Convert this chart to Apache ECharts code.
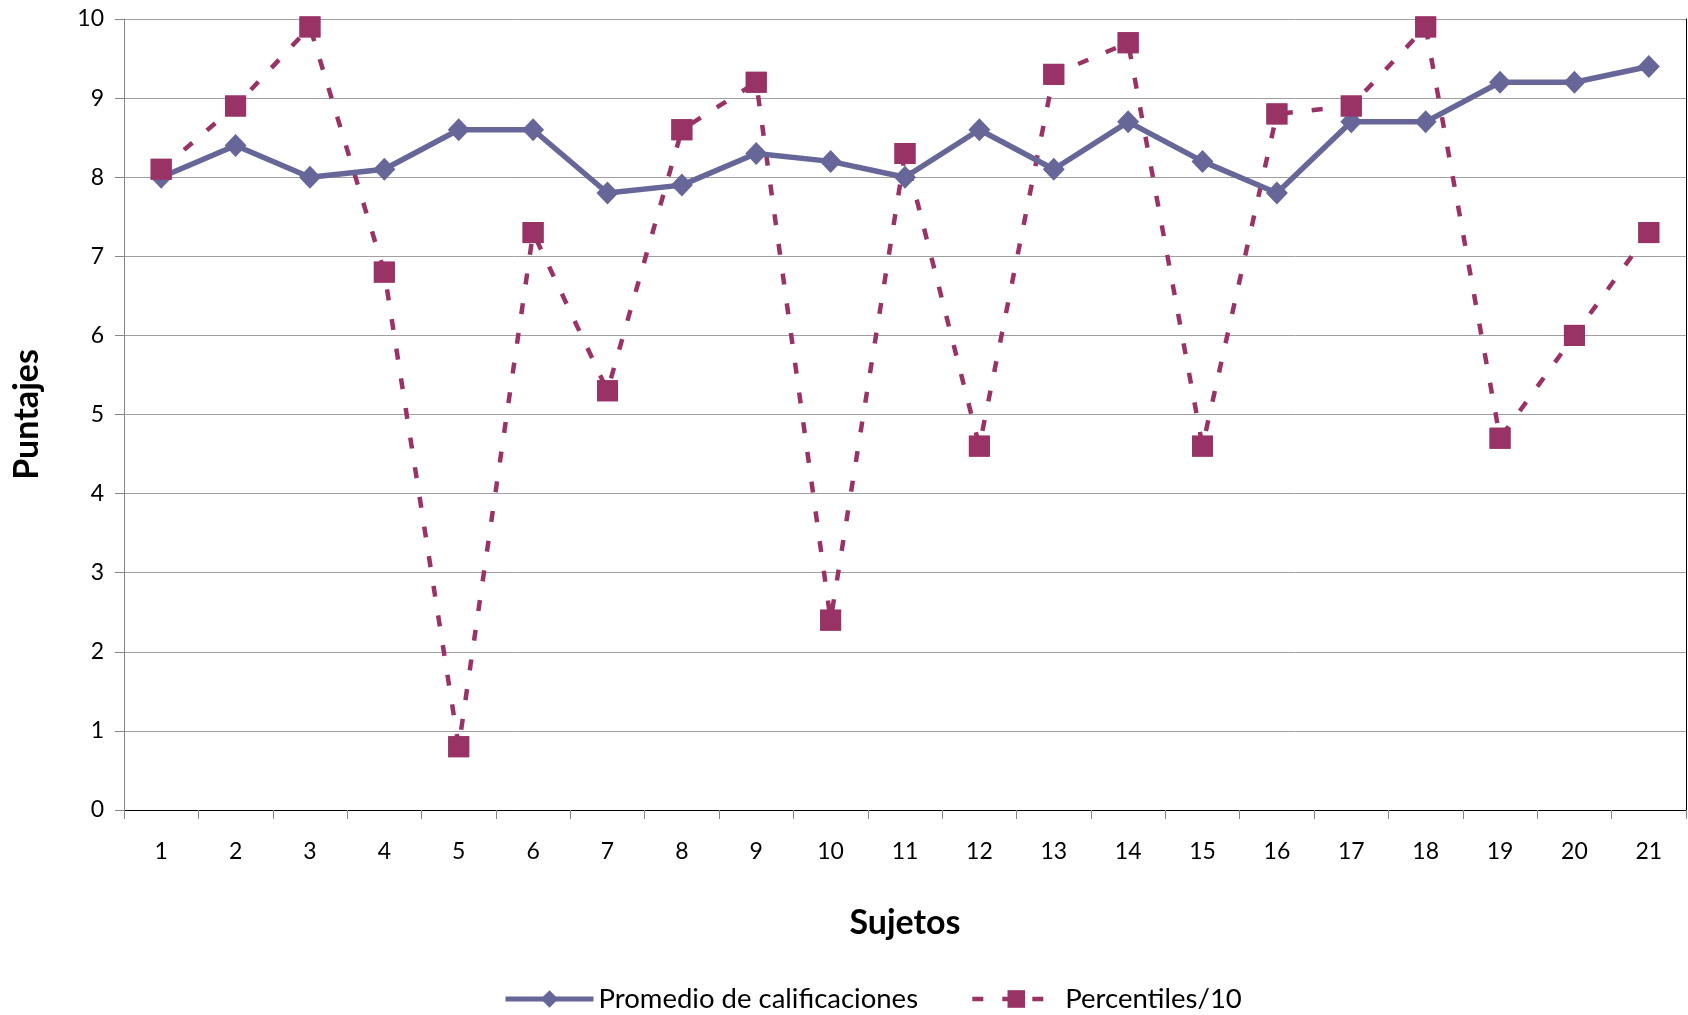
<!DOCTYPE html>
<html>
<head>
<meta charset="utf-8">
<script src="https://cdn.jsdelivr.net/npm/echarts@6/dist/echarts.min.js"></script>
<style>
  html, body { margin: 0; padding: 0; background: #fff; }
  #chart { width: 1688px; height: 1015px; }
</style>
</head>
<body>
<div id="chart"></div>
<script>
// Sujetos 1..21
const sujetos = ['1','2','3','4','5','6','7','8','9','10','11','12','13','14','15','16','17','18','19','20','21'];
// Promedio de calificaciones por sujeto
const promedio = [8.0, 8.4, 8.0, 8.1, 8.6, 8.6, 7.8, 7.9, 8.3, 8.2, 8.0, 8.6, 8.1, 8.7, 8.2, 7.8, 8.7, 8.7, 9.2, 9.2, 9.4];
// Percentil de cada sujeto dividido entre 10
const percentiles10 = [8.1, 8.9, 9.9, 6.8, 0.8, 7.3, 5.3, 8.6, 9.2, 2.4, 8.3, 4.6, 9.3, 9.7, 4.6, 8.8, 8.9, 9.9, 4.7, 6.0, 7.3];

const FONT = 'Lato, "Open Sans", sans-serif';
const AXIS_GRAY = '#868686';
const BLUE = '#666699';
const PLUM = '#993366';

const chart = echarts.init(document.getElementById('chart'), null, { renderer: 'canvas' });

chart.setOption({
  animation: false,
  backgroundColor: '#ffffff',
  textStyle: { fontFamily: FONT },
  grid: { left: 124, top: 19, right: 2, bottom: 205, containLabel: false },
  legend: {
    left: 498,
    top: 980,
    itemWidth: 88,
    itemHeight: 22,
    itemGap: 52,
    textStyle: { fontFamily: FONT, fontSize: 27.5, color: '#000' },
    data: [
      { name: 'Promedio de calificaciones', lineStyle: { width: 5 } },
      { name: 'Percentiles/10', lineStyle: { width: 4.5 } }
    ]
  },
  xAxis: [
    {
      type: 'category',
      data: sujetos,
      boundaryGap: true,
      name: 'Sujetos',
      nameLocation: 'middle',
      nameGap: 96,
      nameTextStyle: { fontFamily: FONT, fontSize: 34, fontWeight: 'bold', color: '#000' },
      axisLine: { lineStyle: { color: AXIS_GRAY, width: 1 } },
      axisTick: { show: true, length: 9, alignWithLabel: false, lineStyle: { color: AXIS_GRAY } },
      axisLabel: { margin: 30, fontSize: 23, color: '#000', fontFamily: FONT },
      splitLine: { show: false }
    },
    {
      // top border of the plot area
      type: 'category',
      position: 'top',
      data: sujetos,
      axisLine: { lineStyle: { color: '#000', width: 1 } },
      axisTick: { show: false },
      axisLabel: { show: false },
      splitLine: { show: false }
    }
  ],
  yAxis: [
    {
      type: 'value',
      min: 0,
      max: 10,
      interval: 1,
      name: 'Puntajes',
      nameLocation: 'middle',
      nameGap: 80,
      nameRotate: 90,
      nameTextStyle: { fontFamily: FONT, fontSize: 34, fontWeight: 'bold', color: '#000' },
      axisLine: { show: true, lineStyle: { color: AXIS_GRAY, width: 1 } },
      axisTick: { show: true, length: 9, lineStyle: { color: AXIS_GRAY } },
      axisLabel: { margin: 20, fontSize: 23, color: '#000', fontFamily: FONT },
      splitLine: { show: true, lineStyle: { color: '#a0a0a0', width: 1 } }
    },
    {
      // right border of the plot area
      type: 'value',
      position: 'right',
      min: 0,
      max: 10,
      interval: 1,
      axisLine: { show: true, lineStyle: { color: '#000', width: 1 } },
      axisTick: { show: false },
      axisLabel: { show: false },
      splitLine: { show: false }
    }
  ],
  series: [
    {
      // dashed percentile line (bottom layer)
      name: 'Percentiles/10',
      type: 'line',
      data: percentiles10,
      symbol: 'rect',
      symbolSize: 21,
      showAllSymbol: true,
      lineStyle: { color: PLUM, width: 4.5, type: [11, 19] },
      itemStyle: { color: PLUM, borderWidth: 0 },
      z: 2
    },
    {
      name: 'Promedio de calificaciones',
      type: 'line',
      data: promedio,
      symbol: 'diamond',
      symbolSize: [22, 23],
      showAllSymbol: true,
      lineStyle: { color: BLUE, width: 5.5 },
      itemStyle: { color: BLUE, borderWidth: 0 },
      z: 3
    },
    {
      // percentile square markers on top of everything
      name: 'percentiles-markers',
      type: 'line',
      data: percentiles10,
      symbol: 'rect',
      symbolSize: 21,
      showAllSymbol: true,
      lineStyle: { width: 0, opacity: 0 },
      itemStyle: { color: PLUM, borderWidth: 0 },
      z: 4
    }
  ]
});
</script>
</body>
</html>
